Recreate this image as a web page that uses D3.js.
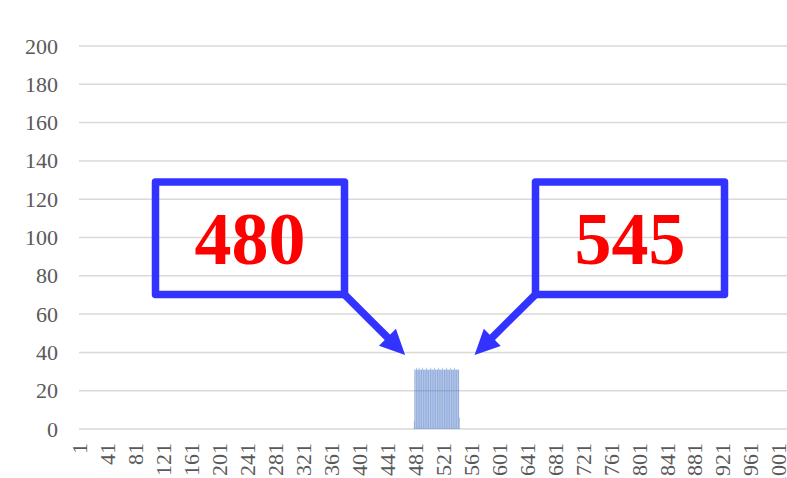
<!DOCTYPE html>
<html>
<head>
<meta charset="utf-8">
<script src="https://cdn.jsdelivr.net/npm/d3@7"></script>
<style>
  html, body { margin: 0; padding: 0; background: #fff; }
  svg { display: block; }
</style>
</head>
<body>
<svg id="chart" width="787" height="478"></svg>
<script>
// Number of categories on the horizontal axis (1..categoryCount)
const categoryCount = 1013;
// First category that carries a non-zero value
const spanStart = 480;
// Values for categories 480..545 (all other categories are 0)
const spanValues = [
  4, 31, 31, 32, 31, 31, 31, 32, 31, 31, 31, 31, 32, 31, 31, 31,
  31, 31, 32, 31, 31, 31, 31, 31, 32, 31, 31, 31, 31, 32, 31, 31,
  31, 31, 31, 32, 31, 31, 31, 31, 31, 32, 31, 31, 31, 31, 32, 31,
  31, 31, 31, 31, 32, 31, 31, 31, 31, 31, 32, 31, 31, 31, 31, 31,
  31, 6
];
// Category tick labels
const xTickLabels = [1, 41, 81, 121, 161, 201, 241, 281, 321, 361, 401, 441,
  481, 521, 561, 601, 641, 681, 721, 761, 801, 841, 881, 921, 961, 1001];
// Value axis ticks
const yTicks = [0, 20, 40, 60, 80, 100, 120, 140, 160, 180, 200];
// Callout annotations: category each one points at
const callouts = [480, 545];

(function () {
  const categories = d3.range(1, categoryCount + 1);
  const spanCategories = spanValues.map((v, i) => spanStart + i);

  const svg = d3.select("#chart");
  const plotLeft = 79, plotRight = 787, plotTop = 46, plotBottom = 429;

  const x = d3.scaleBand().domain(categories).range([plotLeft, plotRight]).paddingInner(0).paddingOuter(0);
  const y = d3.scaleLinear().domain([0, 200]).range([plotBottom, plotTop]);

  const axisFont = "'Liberation Serif', 'Times New Roman', serif";
  const textColor = "#595959";

  // Horizontal gridlines
  svg.append("g")
    .selectAll("line")
    .data(yTicks)
    .join("line")
    .attr("x1", plotLeft).attr("x2", plotRight)
    .attr("y1", d => y(d)).attr("y2", d => y(d))
    .attr("stroke", "#d9d9d9")
    .attr("stroke-width", 1.5);

  // Value axis labels
  const yAxis = d3.axisLeft(y).tickValues(yTicks).tickSize(0).tickPadding(0);
  svg.append("g")
    .attr("transform", "translate(58,0)")
    .call(yAxis)
    .call(g => g.select(".domain").remove())
    .selectAll("text")
    .attr("fill", textColor)
    .style("font-family", axisFont)
    .style("font-size", "22px");

  // Category axis labels, rotated
  const xAxis = d3.axisBottom(x).tickValues(xTickLabels).tickSize(0).tickPadding(0);
  svg.append("g")
    .attr("transform", `translate(0,${plotBottom})`)
    .call(xAxis)
    .call(g => g.select(".domain").remove())
    .selectAll("text")
    .attr("fill", textColor)
    .style("font-family", axisFont)
    .style("font-size", "22px")
    .attr("text-anchor", "end")
    .attr("transform", "rotate(-90)")
    .attr("x", -14)
    .attr("y", 0)
    .attr("dy", "0.36em");

  // Bars
  const barW = x.bandwidth() * 0.55;
  svg.append("g")
    .selectAll("rect")
    .data(spanCategories.map((c, i) => ({ c, v: spanValues[i] })))
    .join("rect")
    .attr("x", d => x(d.c) + (x.bandwidth() - barW) / 2)
    .attr("width", barW)
    .attr("y", d => y(d.v))
    .attr("height", d => y(0) - y(d.v))
    .attr("fill", "#4472C4");

  // Callouts
  const blue = "#3333ff";
  const boxes = [
    { label: callouts[0], x0: 155.5, x1: 344.5, y0: 182, y1: 294.5, corner: "right", tipOffset: -9 },
    { label: callouts[1], x0: 535.5, x1: 724.5, y0: 182, y1: 294.5, corner: "left", tipOffset: 15 }
  ];
  const tipY = 355;
  const ann = svg.append("g");
  boxes.forEach(b => {
    ann.append("rect")
      .attr("x", b.x0).attr("y", b.y0)
      .attr("width", b.x1 - b.x0).attr("height", b.y1 - b.y0)
      .attr("fill", "none")
      .attr("stroke", blue)
      .attr("stroke-width", 7.5)
      .attr("stroke-linejoin", "round");

    const sx = b.corner === "right" ? b.x1 : b.x0;
    const sy = b.y1;
    const tx = x(b.label) + x.bandwidth() / 2 + b.tipOffset;
    const ty = tipY;
    const ang = Math.atan2(ty - sy, tx - sx);
    const headLen = 25, headHalf = 12;
    const bx = tx - headLen * Math.cos(ang), by = ty - headLen * Math.sin(ang);
    ann.append("line")
      .attr("x1", sx).attr("y1", sy)
      .attr("x2", bx + 2 * Math.cos(ang)).attr("y2", by + 2 * Math.sin(ang))
      .attr("stroke", blue).attr("stroke-width", 7.5);
    const px = -Math.sin(ang), py = Math.cos(ang);
    ann.append("path")
      .attr("d", `M${tx},${ty}L${bx + headHalf * px},${by + headHalf * py}L${bx - headHalf * px},${by - headHalf * py}Z`)
      .attr("fill", blue);

    ann.append("text")
      .attr("x", (b.x0 + b.x1) / 2)
      .attr("y", 264)
      .attr("text-anchor", "middle")
      .attr("fill", "#ff0000")
      .style("font-family", axisFont)
      .style("font-weight", "bold")
      .style("font-size", "74px")
      .text(b.label);
  });
})();
</script>
</body>
</html>
